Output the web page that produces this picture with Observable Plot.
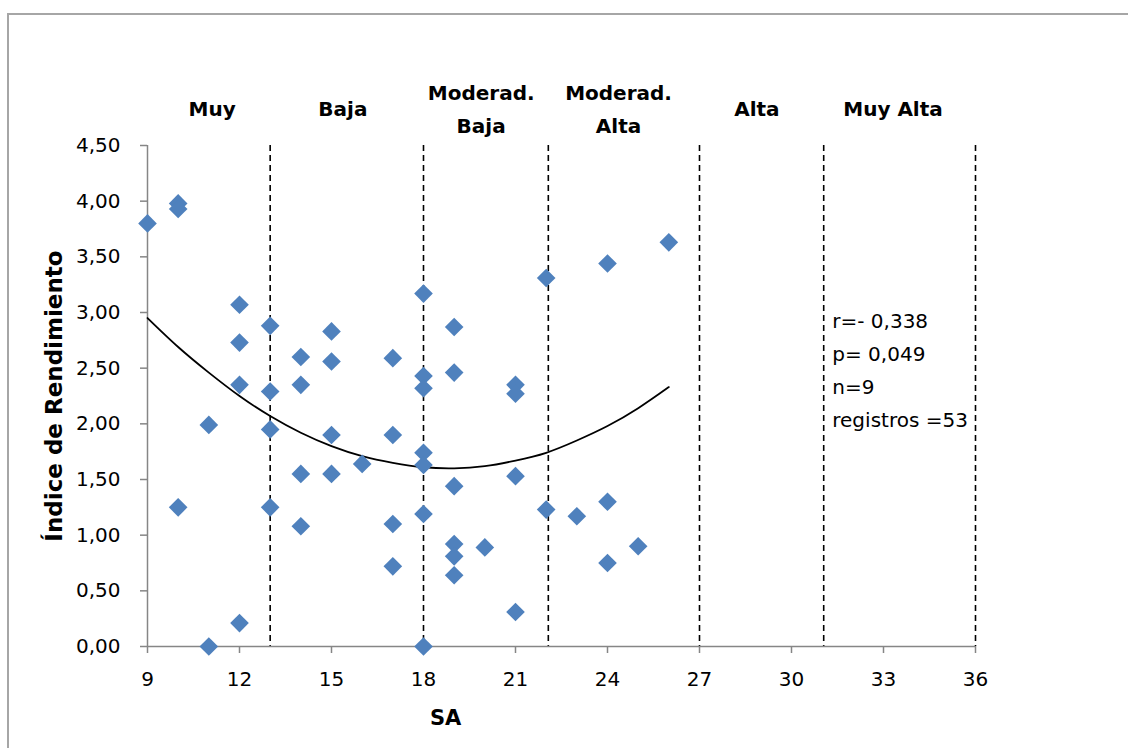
<!DOCTYPE html>
<html>
<head>
<meta charset="utf-8">
<script src="https://cdn.jsdelivr.net/npm/d3@7"></script>
<script src="https://cdn.jsdelivr.net/npm/@observablehq/plot@0.6"></script>
<style>
html, body { margin: 0; padding: 0; background: #fff; overflow: hidden; width: 1128px; height: 748px; }
#wrap { position: relative; width: 1128px; height: 748px; }
#border { position: absolute; left: 7px; top: 13px; width: 1300px; height: 900px; border: 2px solid #a6a6a6; pointer-events: none; }
#chart { position: absolute; left: 0; top: 0; }
</style>
</head>
<body>
<div id="wrap"><div id="border"></div><div id="chart"></div></div>
<script>
// Scatter data: SA score vs. Índice de Rendimiento
const sa = [9,10,10,10,11,11,12,12,12,12,13,13,13,13,14,14,14,14,15,15,15,15,16,17,17,17,17,18,18,18,18,18,18,18,19,19,19,19,19,19,20,21,21,21,21,22,22,23,24,24,24,25,26];
const indice = [3.80,3.98,3.93,1.25,1.99,0.00,3.07,2.73,2.35,0.21,2.88,2.29,1.95,1.25,2.60,2.35,1.55,1.08,2.83,2.56,1.90,1.55,1.64,2.59,1.90,1.10,0.72,3.17,2.43,2.32,1.74,1.63,1.19,0.00,2.87,2.46,1.44,0.92,0.81,0.64,0.89,2.35,2.27,1.53,0.31,3.31,1.23,1.17,3.44,1.30,0.75,0.90,3.63];

// Trend curve
const trendX = [9,10,11,12,13,14,15,16,17,18,19,20,21,22,23,24,25,26];
const trendY = [2.95,2.69,2.46,2.25,2.07,1.92,1.80,1.71,1.65,1.61,1.60,1.62,1.67,1.74,1.85,1.98,2.14,2.33];

// Category boundaries and labels
const boundaries = [13, 18, 22.07, 27, 31.05, 36];
const catLabels = ["Muy", "Baja", "Moderad.\nBaja", "Moderad.\nAlta", "Alta", "Muy Alta"];
const catX = [11.11, 15.37, 19.88, 24.36, 28.87, 33.31];

// Statistics annotation
const statLines = ["r=- 0,338", "p= 0,049", "n=9", "registros =53"];

// Axis ticks
const xTicks = [9, 12, 15, 18, 21, 24, 27, 30, 33, 36];
const yTicks = [0, 0.5, 1, 1.5, 2, 2.5, 3, 3.5, 4, 4.5];

const xTitle = "SA";
const yTitle = "Índice de Rendimiento";

const points = sa.map((x, i) => ({x, y: indice[i]}));
const trend = trendX.map((x, i) => ({x, y: trendY[i]}));
const fmt = d => d.toFixed(2).replace(".", ",");
const axisGray = "#868686";

const chart = Plot.plot({
  width: 1128,
  height: 748,
  marginLeft: 147,
  marginRight: 153,
  marginTop: 145,
  marginBottom: 102,
  style: {fontFamily: "'DejaVu Sans', sans-serif", background: "transparent", color: "#000"},
  x: {domain: [9, 36]},
  y: {domain: [0, 4.5]},
  marks: [
    Plot.ruleX(boundaries, {stroke: "#000", strokeWidth: 1.6, strokeDasharray: "6,4"}),
    Plot.ruleX([9], {stroke: axisGray, strokeWidth: 1.5}),
    Plot.ruleY([0], {stroke: axisGray, strokeWidth: 1.5}),
    Plot.axisY({ticks: yTicks, tickFormat: fmt, tickSize: 7, tickPadding: 20, fontSize: 20, stroke: axisGray, strokeWidth: 1.5, fill: "#000", label: null}),
    Plot.axisX({ticks: xTicks, tickFormat: d => String(d), tickSize: 7, tickPadding: 18, fontSize: 20, stroke: axisGray, strokeWidth: 1.5, fill: "#000", label: null}),
    Plot.line(trend, {x: "x", y: "y", curve: "natural", stroke: "#000", strokeWidth: 1.8}),
    Plot.dot(points, {x: "x", y: "y", symbol: "diamond2", r: 8.4, fill: "#4F81BD", stroke: "none"}),
    Plot.text(catLabels, {x: catX, text: d => d, frameAnchor: "top", lineAnchor: "middle", textAnchor: "middle", dy: -40, fontSize: 20, fontWeight: "bold", lineHeight: 1.65, fill: "#000"}),
    Plot.text([statLines.join("\n")], {x: [31.33], y: [2.51], text: d => d, textAnchor: "start", lineAnchor: "middle", fontSize: 20, lineHeight: 1.65, fill: "#000"}),
    Plot.text([yTitle], {text: d => d, frameAnchor: "left", textAnchor: "middle", lineAnchor: "middle", dx: -93, rotate: -90, fontSize: 23, fontWeight: "bold", fill: "#000"}),
    Plot.text([xTitle], {x: [18.72], text: d => d, frameAnchor: "bottom", textAnchor: "middle", lineAnchor: "middle", dy: 72, fontSize: 21, fontWeight: "bold", fill: "#000"})
  ]
});
document.getElementById("chart").appendChild(chart);
</script>
</body>
</html>
